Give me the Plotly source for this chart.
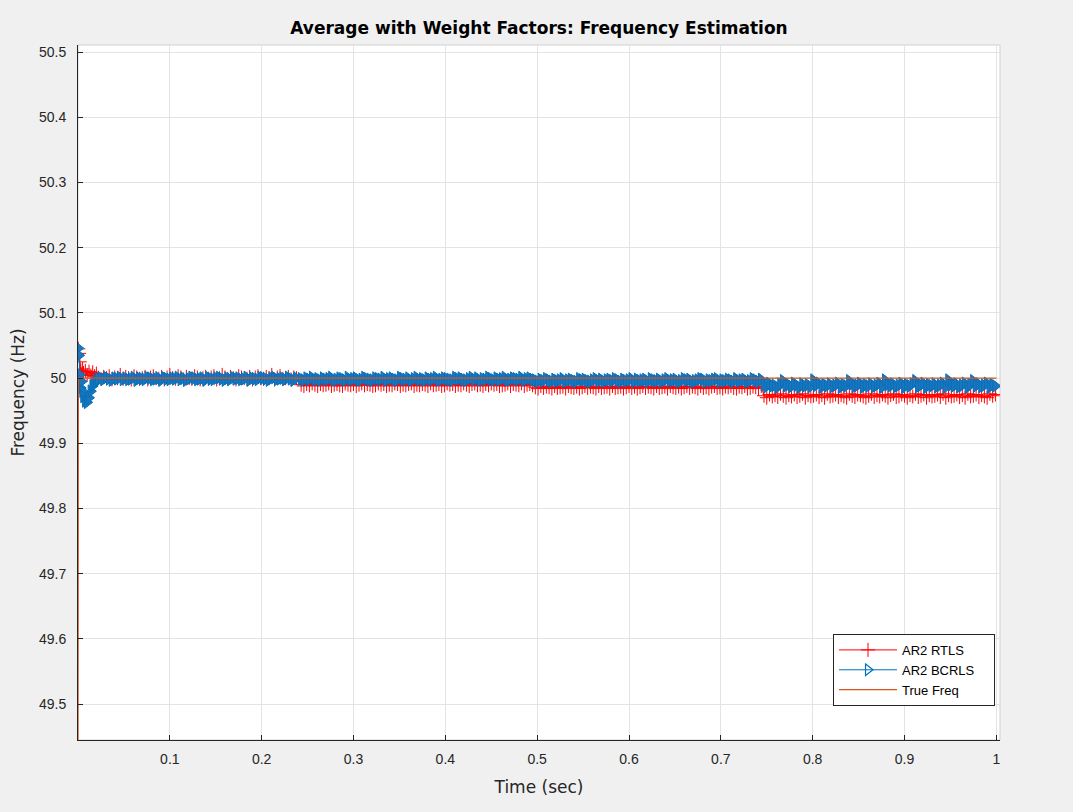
import numpy as np
import plotly.graph_objects as go

# ---------------- data (frequency deviations in mHz relative to 50 Hz) ----------------
F0 = 50.0
STEP = 0.003

# start-up transient
t_transient = [0.0004, 0.0012, 0.002, 0.003, 0.004, 0.005, 0.006, 0.008, 0.010, 0.012, 0.014, 0.016, 0.018, 0.020]
rtls_transient = [45, 38, 25, 12, 6, 14, 8, 11, 5, 10, 4, 9, 3, 7]
bcrls_transient = [46, 35, 5, -15, -5, -20, -28, -35, -37, -30, -20, -12, -8, -5]

# steady segments (start time of each segment)
seg_start = [0.022, 0.243, 0.498, 0.747]

rtls_seg1 = [1, -1, 2, 0, 3, -2, 1, 0, 5, -1,
             2, 0, -2, 3, 1, -1, 0, 2, -2, 1,
             3, 0, -1, 2, -2, 1, 5, 0, -1, 3,
             1, -2, 2, 0, -1, 3, 1, -2, 0, 2,
             -1, 1, 3, -2, 0, 5, 1, -1, 2, 0,
             -2, 3, 1, 0, -1, 2, -2, 1, 3, 0,
             -1, 2, 0, 5, -2, 1, 3, -1, 0, 2,
             -2, 1, 0]
rtls_seg2 = [-10, -12, -9, -11, -8, -10, -12, -9, -11, -10,
             -8, -12, -10, -9, -11, -12, -8, -10, -11, -9,
             -12, -10, -8, -11, -9, -10, -12, -11, -8, -10,
             -9, -12, -10, -11, -8, -9, -12, -10, -11, -9,
             -8, -12, -10, -11, -9, -10, -12, -8, -11, -10,
             -9, -12, -11, -8, -10, -9, -12, -10, -11, -8,
             -10, -12, -9, -8, -11, -10, -12, -9, -11, -8,
             -10, -9, -12, -11, -10, -8, -12, -9, -10, -11,
             -8, -12, -10, -9, -11]
rtls_seg3 = [-14, -16, -12, -15, -13, -14, -16, -12, -15, -14,
             -13, -16, -12, -14, -15, -13, -16, -14, -12, -15,
             -13, -14, -16, -12, -15, -14, -13, -16, -12, -15,
             -14, -13, -16, -14, -12, -15, -13, -16, -14, -12,
             -15, -13, -14, -16, -12, -15, -14, -13, -16, -12,
             -14, -15, -13, -16, -14, -12, -15, -13, -14, -16,
             -12, -15, -14, -16, -13, -12, -15, -14, -16, -13,
             -14, -12, -15, -16, -13, -14, -12, -16, -15, -13,
             -14, -16, -12]
rtls_seg4 = [-27, -30, -25, -28, -26, -29, -24, -27, -30, -26,
             -28, -25, -29, -27, -24, -30, -26, -28, -27, -25,
             -29, -26, -30, -24, -28, -27, -25, -29, -26, -28,
             -30, -24, -27, -29, -25, -26, -28, -30, -27, -24,
             -29, -26, -28, -25, -27, -30, -26, -24, -29, -28,
             -25, -27, -30, -26, -28, -24, -29, -27, -25, -30,
             -26, -28, -27, -25, -29, -24, -30, -26, -28, -27,
             -25, -29, -26, -30, -24, -28, -27, -25, -29, -26,
             -28, -30, -24, -27, -25]

bcrls_seg1 = [-1, 0, -2, 1, -1, -3, 0, -1, 1, -2,
              0, -2, -1, 1, -3, 0, -1, -2, 1, 0,
              -2, -1, 0, -3, 1, -1, -2, 0, -1, 1,
              -2, 0, -3, -1, 1, 0, -2, -1, 0, -3,
              1, -1, -2, 0, 1, -1, -3, 0, -2, 1,
              -1, 0, -2, -1, 1, -3, 0, -1, -2, 1,
              0, -1, -3, 0, 1, -2, -1, 0, -2, 1,
              -1, -3, 0]
bcrls_seg2 = [-1, -3, 0, -2, 1, -2, -1, -3, 0, -2,
              -1, 1, -3, -2, 0, -1, -3, 1, -2, -1,
              0, -3, -2, 1, -1, -2, -3, 0, -1, -2,
              1, -3, -1, 0, -2, -3, 1, -1, -2, 0,
              -3, -1, 1, -2, -1, -3, 0, -2, -1, 1,
              -3, -2, 0, -1, -2, -3, 1, -1, 0, -2,
              -3, -1, 1, -2, 0, -3, -1, -2, 1, -1,
              -3, 0, -2, -1, 1, -3, -2, 0, -1, -2,
              1, -3, -1, 0, -2]
bcrls_seg3 = [-3, -5, -2, -4, -1, -3, -5, -2, -4, -3,
              -1, -5, -3, -2, -4, -5, -1, -3, -2, -4,
              -5, -3, -1, -4, -2, -5, -3, -2, -4, -1,
              -3, -5, -2, -4, -3, -1, -5, -2, -4, -3,
              -2, -5, -1, -3, -4, -2, -5, -3, -1, -4,
              -3, -2, -5, -4, -1, -3, -2, -5, -4, -3,
              -1, -2, -5, -3, -4, -2, -1, -5, -3, -4,
              -2, -3, -5, -1, -4, -3, -2, -5, -4, -1,
              -3, -5, -2]
bcrls_seg4 = [-10, -13, -8, -12, -11, -14, -9, -4, -12, -10,
              -13, -8, -11, -14, -9, -12, -10, -13, -3, -11,
              -8, -14, -10, -12, -9, -13, -11, -8, -14, -10,
              -12, -4, -9, -13, -11, -8, -14, -10, -12, -9,
              -13, -11, -8, -14, -3, -10, -12, -9, -13, -11,
              -8, -14, -10, -12, -9, -4, -13, -11, -8, -14,
              -10, -12, -9, -13, -11, -8, -14, -3, -10, -12,
              -9, -13, -11, -8, -14, -10, -4, -12, -9, -13,
              -11, -8, -14, -10, -12]

true_t = [0.0, 0.0004, 1.0]
true_f = [49.445, 50.0, 50.0]

series_names = ["AR2 RTLS", "AR2 BCRLS", "True Freq"]
x_ticks = [0.1, 0.2, 0.3, 0.4, 0.5, 0.6, 0.7, 0.8, 0.9, 1.0]
x_ticktext = ["0.1", "0.2", "0.3", "0.4", "0.5", "0.6", "0.7", "0.8", "0.9", "1"]
y_ticks = [49.5, 49.6, 49.7, 49.8, 49.9, 50.0, 50.1, 50.2, 50.3, 50.4, 50.5]
y_ticktext = ["49.5", "49.6", "49.7", "49.8", "49.9", "50", "50.1", "50.2", "50.3", "50.4", "50.5"]


def build(transient, segs):
    t = list(t_transient)
    v = [F0 + d / 1000.0 for d in transient]
    for s0, seg in zip(seg_start, segs):
        t += [s0 + STEP * i for i in range(len(seg))]
        v += [F0 + d / 1000.0 for d in seg]
    return t, v


t_r, f_r = build(rtls_transient, [rtls_seg1, rtls_seg2, rtls_seg3, rtls_seg4])
t_b, f_b = build(bcrls_transient, [bcrls_seg1, bcrls_seg2, bcrls_seg3, bcrls_seg4])

# ---------------- figure ----------------
FONT = "Liberation Sans, Arial, Helvetica, sans-serif"
WFONT = "DejaVu Sans, Verdana, sans-serif"
AX = "#262626"
BLUE = "#0072bd"
PAD = "\u00a0" * 4

fig = go.Figure()
fig.add_trace(go.Scatter(
    x=t_r, y=f_r, mode="lines+markers", name=series_names[0],
    line=dict(color="#ff0000", width=1),
    marker=dict(symbol="cross-thin-open", size=10, line=dict(color="#ff0000", width=1)),
))
# dense estimate: overlapping markers form a solid band
fig.add_trace(go.Scatter(
    x=t_b, y=f_b, mode="lines+markers", name=series_names[1], showlegend=False,
    legendgroup="bcrls",
    line=dict(color=BLUE, width=1),
    marker=dict(symbol="triangle-right", size=11, color="#1f74bb", line=dict(color=BLUE, width=1)),
))
# legend entry for the BCRLS series (open triangle, as in the legend of the original)
fig.add_trace(go.Scatter(
    x=[None], y=[None], mode="lines+markers", name=series_names[1] + PAD,
    legendgroup="bcrls",
    line=dict(color=BLUE, width=1),
    marker=dict(symbol="triangle-right-open", size=10, color=BLUE, line=dict(color=BLUE, width=1.2)),
))
fig.add_trace(go.Scatter(
    x=true_t, y=true_f, mode="lines", name=series_names[2],
    line=dict(color="#d95319", width=1.2),
))

fig.add_shape(type="rect", xref="paper", yref="paper", x0=0, x1=1, y0=0, y1=1,
              line=dict(color="#d0d0d0", width=1), layer="below")

fig.update_layout(
    width=1073, height=812,
    margin=dict(l=78, r=73, t=45, b=72, autoexpand=False),
    paper_bgcolor="#f0f0f0", plot_bgcolor="#ffffff",
    font=dict(family=FONT, size=14, color=AX),
    title=dict(text="<b>Average with Weight Factors: Frequency Estimation</b>",
               x=0.5, xref="paper", xanchor="center",
               y=1 - 28 / 812, yref="container", yanchor="middle",
               font=dict(family=WFONT, size=17, color="#000000")),
    showlegend=True,
    legend=dict(x=0.9946, y=0.049, xanchor="right", yanchor="bottom",
                bgcolor="#ffffff", bordercolor=AX, borderwidth=1,
                font=dict(family=FONT, size=13, color="#000000"),
                tracegroupgap=0, itemwidth=58),
)
fig.update_xaxes(
    range=[0, 1.004], tickvals=x_ticks, ticktext=x_ticktext,
    showgrid=True, gridcolor="#e3e3e3", gridwidth=1, zeroline=False,
    showline=True, linecolor=AX, linewidth=1,
    ticks="inside", ticklen=5, tickcolor=AX, ticklabelstandoff=6,
    tickfont=dict(size=14, color=AX),
    title=dict(text="Time (sec)", font=dict(family=WFONT, size=17, color=AX), standoff=15),
)
fig.update_yaxes(
    range=[49.445, 50.511], tickvals=y_ticks, ticktext=y_ticktext,
    showgrid=True, gridcolor="#e3e3e3", gridwidth=1, zeroline=False,
    showline=True, linecolor=AX, linewidth=1,
    ticks="inside", ticklen=5, tickcolor=AX, ticklabelstandoff=8,
    tickfont=dict(size=14, color=AX),
    title=dict(text="Frequency (Hz)", font=dict(family=WFONT, size=17, color=AX), standoff=10),
)

fig.write_html("out.html")
